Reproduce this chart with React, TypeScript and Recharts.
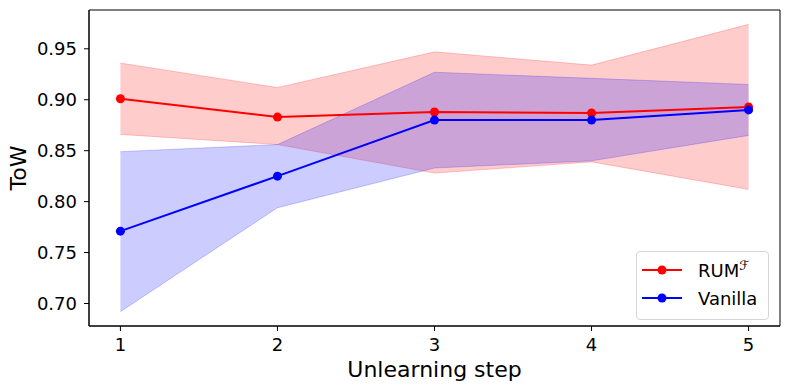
import React from 'react';
import {
  ComposedChart, Area, Line, XAxis, YAxis, Legend, ReferenceArea,
} from 'recharts';

const steps = [1, 2, 3, 4, 5];
const rumMean = [0.901, 0.883, 0.888, 0.887, 0.893];
const rumLow = [0.866, 0.856, 0.828, 0.839, 0.812];
const rumHigh = [0.936, 0.912, 0.947, 0.934, 0.974];
const vanMean = [0.771, 0.825, 0.880, 0.880, 0.890];
const vanLow = [0.692, 0.794, 0.833, 0.840, 0.865];
const vanHigh = [0.849, 0.856, 0.927, 0.921, 0.915];

const xTicks = [1, 2, 3, 4, 5];
const yTicks = [0.7, 0.75, 0.8, 0.85, 0.9, 0.95];
const xDomain: [number, number] = [0.8, 5.2];
const yDomain: [number, number] = [0.6779, 0.9881];

const data = steps.map((s, i) => ({
  step: s,
  rum: rumMean[i],
  rumBand: [rumLow[i], rumHigh[i]],
  van: vanMean[i],
  vanBand: [vanLow[i], vanHigh[i]],
}));

const FONT = 'DejaVu Sans, sans-serif';

const LegendBox = (props: any) => {
  const payload = (props.payload || []).filter((p: any) => p.type !== 'none');
  return (
    <div
      style={{
        width: 131,
        height: 63,
        border: '1px solid #d6d6d6',
        borderRadius: 4,
        background: 'rgba(255,255,255,0.8)',
        paddingTop: 4,
        boxSizing: 'content-box',
        fontFamily: FONT,
        fontSize: 18,
        color: '#000',
      }}
    >
      {payload.map((p: any) => (
        <div key={p.value} style={{ display: 'flex', alignItems: 'center', height: 28 }}>
          <svg width={40} height={28} style={{ marginLeft: 5, flex: 'none' }}>
            <line x1={0} y1={14} x2={40} y2={14} stroke={p.color} strokeWidth={2} />
            <circle cx={20} cy={14} r={4.5} fill={p.color} />
          </svg>
          <span style={{ marginLeft: 16, whiteSpace: 'nowrap' }}>
            {p.value === 'RUM' ? (
              <>RUM<sup style={{ fontSize: 13, fontStyle: 'italic', verticalAlign: 'super', lineHeight: 0 }}>ℱ</sup></>
            ) : p.value}
          </span>
        </div>
      ))}
    </div>
  );
};

export default function App() {
  return (
    <div style={{ position: 'absolute', left: 0, top: 0, width: 790, height: 390, background: '#fff' }}>
      <ComposedChart
        width={790}
        height={390}
        data={data}
        margin={{ top: 10, right: 10, bottom: 8, left: 0 }}
        style={{ fontFamily: FONT }}
      >
        <XAxis
          dataKey="step"
          type="number"
          domain={xDomain}
          ticks={xTicks}
          allowDataOverflow
          height={56}
          tickSize={5}
          tickMargin={7}
          stroke="#000"
          tick={{ fill: '#000', fontSize: 18, fontFamily: FONT }}
          tickLine={{ stroke: '#000' }}
          label={{ value: 'Unlearning step', position: 'insideBottom', offset: 5, fill: '#000', fontSize: 22, fontFamily: FONT }}
        />
        <YAxis
          type="number"
          domain={yDomain}
          ticks={yTicks}
          allowDataOverflow
          width={89}
          tickSize={5}
          tickMargin={7}
          stroke="#000"
          tickFormatter={(v: number) => v.toFixed(2)}
          tick={{ fill: '#000', fontSize: 18, fontFamily: FONT }}
          tickLine={{ stroke: '#000' }}
          label={{ value: 'ToW', angle: -90, position: 'insideLeft', offset: 18, fill: '#000', fontSize: 22, fontFamily: FONT, style: { textAnchor: 'middle' } }}
        />
        <Area
          dataKey="rumBand"
          type="linear"
          fill="#ff0000"
          fillOpacity={0.2}
          stroke="#ff0000"
          strokeOpacity={0.2}
          strokeWidth={1}
          isAnimationActive={false}
          legendType="none"
          activeDot={false}
        />
        <Area
          dataKey="vanBand"
          type="linear"
          fill="#0000ff"
          fillOpacity={0.2}
          stroke="#0000ff"
          strokeOpacity={0.2}
          strokeWidth={1}
          isAnimationActive={false}
          legendType="none"
          activeDot={false}
        />
        <Line
          dataKey="rum"
          name="RUM"
          type="linear"
          stroke="#ff0000"
          strokeWidth={2}
          dot={{ r: 4.5, fill: '#ff0000', stroke: '#ff0000', strokeWidth: 0 }}
          activeDot={false}
          isAnimationActive={false}
        />
        <Line
          dataKey="van"
          name="Vanilla"
          type="linear"
          stroke="#0000ff"
          strokeWidth={2}
          dot={{ r: 4.5, fill: '#0000ff', stroke: '#0000ff', strokeWidth: 0 }}
          activeDot={false}
          isAnimationActive={false}
        />
        <ReferenceArea
          x1={xDomain[0]}
          x2={xDomain[1]}
          y1={yDomain[0]}
          y2={yDomain[1]}
          fill="none"
          stroke="#000"
          strokeWidth={1}
          ifOverflow="extendDomain"
        />
        <Legend
          layout="horizontal"
          align="center"
          verticalAlign="middle"
          content={<LegendBox />}
          wrapperStyle={{ position: 'absolute', left: 636, top: 251, width: 134, height: 66 }}
        />
      </ComposedChart>
    </div>
  );
}
